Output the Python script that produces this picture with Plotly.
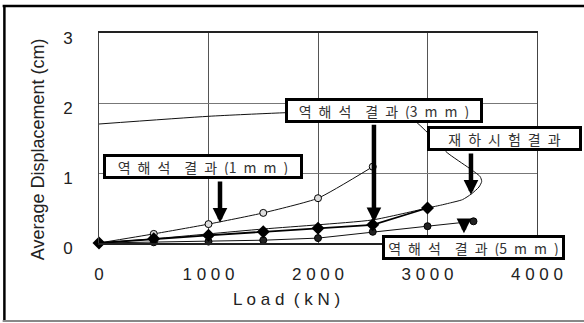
import plotly.graph_objects as go

# Load (kN) vs. average displacement (cm)
load_1mm = [0, 500, 1000, 1500, 2000, 2500]
disp_1mm = [0, 0.13, 0.27, 0.43, 0.64, 1.09]

load_3mm = [0, 500, 1000, 1500, 2000, 2500, 3000]
disp_3mm = [0, 0.06, 0.11, 0.16, 0.21, 0.26, 0.50]

load_5mm = [0, 500, 1000, 1500, 2000, 2500, 3000, 3420]
disp_5mm = [0, 0.01, 0.02, 0.04, 0.07, 0.16, 0.24, 0.31]

# Field load test: loading branch followed by unloading branch
load_test = [0, 500, 1000, 1500, 2000, 2500, 3000, 3060, 3120, 3200, 3320, 3400, 3470, 3495,
             3480, 3380, 3180, 3050, 2910, 2780, 2500, 1680, 1000, 0]
disp_test = [0, 0.06, 0.13, 0.20, 0.26, 0.33, 0.50, 0.52, 0.54, 0.57, 0.62, 0.70, 0.80, 0.88,
             0.95, 1.07, 1.29, 1.50, 1.71, 1.85, 1.90, 1.86, 1.81, 1.70]

x_ticks = [0, 1000, 2000, 3000, 4000]
x_tick_text = ["0", "1 0 0 0", "2 0 0 0", "3 0 0 0", "4 0 0 0"]
y_ticks = [0, 1, 2, 3]
y_tick_text = ["0", "1", "2", "3"]

S = "\u2002"  # wide letter spacing used in the callout boxes


def spaced(parts):
    return S.join(parts)


# Callout labels: (text, x, y, yref, arrow x, arrow tail y, arrow tip y, box width)
labels = [
    (spaced(["역", "해", "석", "", "결", "과", "(1", "m", "m", ")"]), 950, 1.10, "y",
     1105, 0.90, 0.29, 192),
    (spaced(["역", "해", "석", "", "결", "과", "(3", "m", "m", ")"]), 2603, 1.90, "y",
     2511, 1.71, 0.30, 190),
    (spaced(["재", "하", "시", "험", "결", "과"]), 3703, 1.49, "y",
     3397, 1.30, 0.69, 147),
    (spaced(["역", "해", "석", "", "결", "과", "(5", "m", "m", ")"]), 3420, -0.0213, "paper",
     3333, 0.33, 0.14, 175),
]

LAT = "Liberation Sans, Arial, sans-serif"
KR = "Noto Sans CJK KR, sans-serif"

fig = go.Figure()

fig.add_trace(go.Scatter(
    x=load_test, y=disp_test, mode="lines",
    line=dict(color="#111", width=1, shape="spline", smoothing=0.6),
    hoverinfo="skip", cliponaxis=False))

fig.add_trace(go.Scatter(
    x=load_5mm, y=disp_5mm, mode="lines+markers",
    line=dict(color="#111", width=1),
    marker=dict(symbol="circle", size=7, color="#222", line=dict(color="#000", width=1)),
    cliponaxis=False))

fig.add_trace(go.Scatter(
    x=load_1mm, y=disp_1mm, mode="lines+markers",
    line=dict(color="#111", width=1, shape="spline", smoothing=0.5),
    marker=dict(symbol="circle", size=7, color="#ddd", line=dict(color="#000", width=1)),
    cliponaxis=False))

fig.add_trace(go.Scatter(
    x=load_3mm, y=disp_3mm, mode="lines+markers",
    line=dict(color="#000", width=1.8),
    marker=dict(symbol="diamond", size=10, color="#000"),
    cliponaxis=False))

annotations = []
for text, lx, ly, lyref, ax_, tail, tip, w in labels:
    annotations.append(dict(
        x=ax_, y=tip, ax=ax_, ay=tail, xref="x", yref="y", axref="x", ayref="y",
        text="", showarrow=True, arrowhead=2, arrowsize=0.65, arrowwidth=4.5,
        arrowcolor="#000", standoff=0))
for text, lx, ly, lyref, ax_, tail, tip, w in labels:
    annotations.append(dict(
        x=lx, y=ly, xref="x", yref=lyref, text=text, showarrow=False,
        xanchor="center", yanchor="middle", width=w, height=17,
        bgcolor="#fff", bordercolor="#000", borderwidth=3, borderpad=1,
        font=dict(family=KR, size=14, color="#333")))

annotations.append(dict(
    x=0.429, y=-0.267, xref="paper", yref="paper", text="L o a d  ( k N )",
    showarrow=False, xanchor="center", yanchor="middle",
    font=dict(family=LAT, size=17, color="#222")))
annotations.append(dict(
    x=-0.14, y=0.445, xref="paper", yref="paper", text="Average Displacement (cm)",
    showarrow=False, xanchor="center", yanchor="middle", textangle=-90,
    font=dict(family=LAT, size=18, color="#222")))

shapes = [
    dict(type="line", xref="paper", yref="paper", x0=-0.22, x1=1.12, y0=1.128, y1=1.128,
         line=dict(color="#000", width=2.5)),
    dict(type="line", xref="paper", yref="paper", x0=-0.216, x1=-0.216, y0=1.128, y1=-0.372,
         line=dict(color="#000", width=2.5)),
    dict(type="line", xref="paper", yref="paper", x0=-0.22, x1=1.12, y0=-0.372, y1=-0.372,
         line=dict(color="#888", width=2)),
]

fig.update_layout(
    width=584, height=323,
    margin=dict(l=99, r=47, t=33, b=80),
    paper_bgcolor="#fff", plot_bgcolor="#fff",
    showlegend=False,
    annotations=annotations, shapes=shapes,
    xaxis=dict(range=[0, 4000], tickvals=x_ticks, ticktext=x_tick_text,
               showgrid=True, gridcolor="#555", gridwidth=1, zeroline=False,
               showline=True, linecolor="#222", linewidth=1.5, mirror=True,
               ticks="", ticklabelstandoff=15,
               tickfont=dict(family=LAT, size=17, color="#222")),
    yaxis=dict(range=[0, 3], tickvals=y_ticks, ticktext=y_tick_text,
               showgrid=True, gridcolor="#777", gridwidth=1, zeroline=False,
               showline=True, linecolor="#444", linewidth=1, mirror=True,
               ticks="", ticklabelstandoff=22, ticklabelshift=5,
               tickfont=dict(family=LAT, size=17, color="#222")),
)

fig.write_html("out.html")
